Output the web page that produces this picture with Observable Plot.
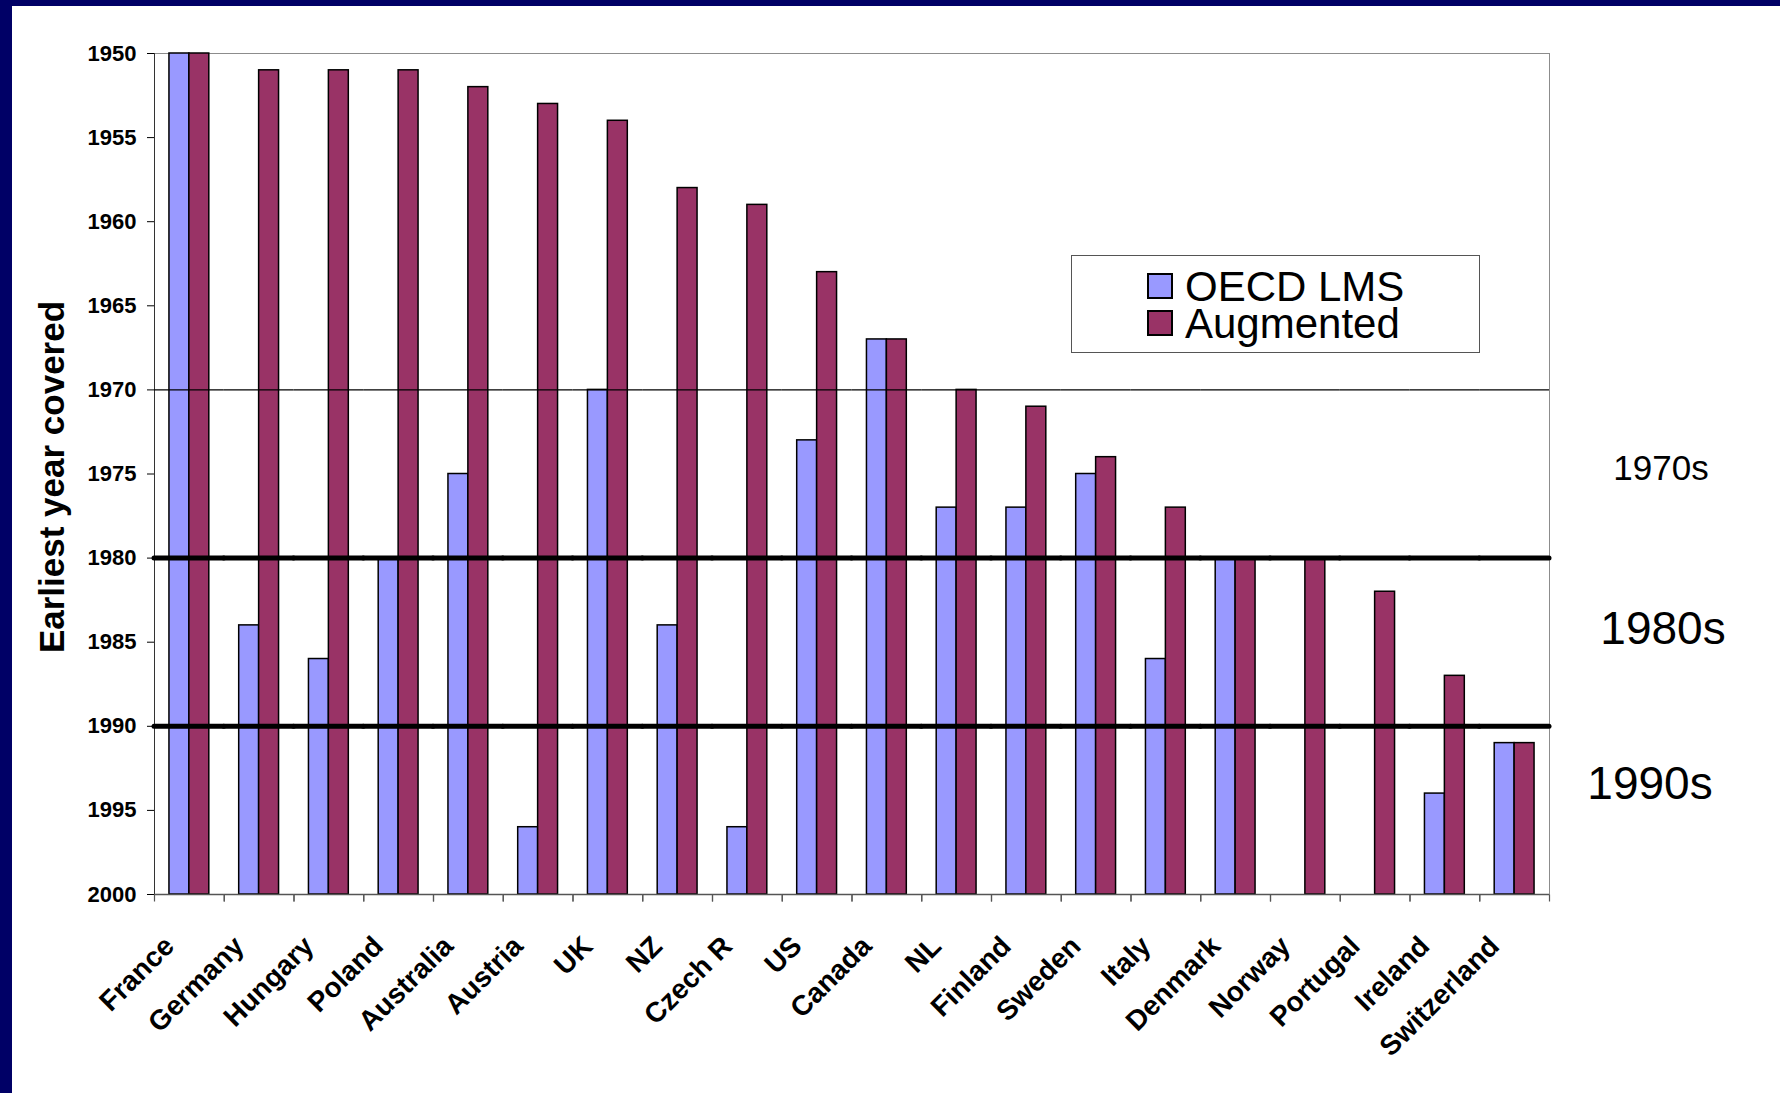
<!DOCTYPE html>
<html>
<head>
<meta charset="utf-8">
<script src="https://cdn.jsdelivr.net/npm/d3@7"></script>
<script src="https://cdn.jsdelivr.net/npm/@observablehq/plot@0.6"></script>
<style>
  html, body { margin: 0; padding: 0; background: #fff; }
  #wrap { position: relative; width: 1780px; height: 1093px; overflow: hidden; background: #fff;
          font-family: "Liberation Sans", Arial, sans-serif; }
  #navyL { position: absolute; left: 0; top: 0; width: 12px; height: 1093px; background: #000066; }
  #navyT { position: absolute; left: 0; top: 0; width: 1780px; height: 6px; background: #000066; }
  #chart { position: absolute; left: 0; top: 0; }
  #chart svg { display: block; }
  .legend { position: absolute; left: 1071px; top: 255px; width: 409px; height: 98px;
            border: 1px solid #555; background: #fff; box-sizing: border-box; }
  .legend .sw { position: absolute; left: 75px; width: 22px; height: 22px; border: 2px solid #000; }
  .legend .txt { position: absolute; left: 113px; top: 12px; font-size: 42px; line-height: 37px;
                 color: #000; white-space: nowrap; }
  .decade { position: absolute; transform: translate(-50%, -50%); line-height: 1; color: #000; white-space: nowrap; }
  .ytitle { position: absolute; left: 51px; top: 477px; transform: translate(-50%, -50%) rotate(-90deg);
            font-weight: bold; font-size: 35px; white-space: nowrap; color: #000; line-height: 1; }
</style>
</head>
<body>
<div id="wrap">
  <div id="chart"></div>
  <div id="navyL"></div>
  <div id="navyT"></div>
</div>
<script>
// ---- data ----
const countries = ["France", "Germany", "Hungary", "Poland", "Australia", "Austria", "UK", "NZ", "Czech R", "US",
                   "Canada", "NL", "Finland", "Sweden", "Italy", "Denmark", "Norway", "Portugal", "Ireland", "Switzerland"];
const oecdLMS   = [1950, 1984, 1986, 1980, 1975, 1996, 1970, 1984, 1996, 1973,
                   1967, 1977, 1977, 1975, 1986, 1980, null, null, 1994, 1991];
const augmented = [1950, 1951, 1951, 1951, 1952, 1953, 1954, 1958, 1959, 1963,
                   1967, 1970, 1971, 1974, 1977, 1980, 1980, 1982, 1987, 1991];
const seriesNames = ["OECD LMS", "Augmented"];
const seriesColors = ["#9999FF", "#993366"];
const yearTicks = [1950, 1955, 1960, 1965, 1970, 1975, 1980, 1985, 1990, 1995, 2000];
const thinLines = [1970];
const thickLines = [1980, 1990];
const decadeLabels = ["1970s", "1980s", "1990s"];
const yTitle = "Earliest year covered";

// ---- table ----
const rows = [];
countries.forEach((c, i) => {
  if (oecdLMS[i] != null) rows.push({country: c, series: seriesNames[0], year: oecdLMS[i]});
  if (augmented[i] != null) rows.push({country: c, series: seriesNames[1], year: augmented[i]});
});

const tickSymbol = {draw(ctx) { ctx.moveTo(0, 0); ctx.lineTo(0, 7); }};

const chart = Plot.plot({
  width: 1780,
  height: 1093,
  marginLeft: 154,
  marginRight: 231,
  marginTop: 53,
  marginBottom: 199,
  style: {fontFamily: '"Liberation Sans", Arial, sans-serif', fontSize: "22px", fontWeight: "bold",
          color: "#000", background: "transparent", overflow: "visible"},
  fx: {domain: countries, padding: 0, round: false, axis: null, label: null},
  x: {domain: seriesNames, paddingInner: 0, paddingOuter: 0.75, round: false, axis: null},
  y: {domain: [1950, 2000], reverse: true, ticks: yearTicks, tickFormat: "d", tickSize: 7, tickPadding: 11, label: null},
  color: {domain: seriesNames, range: seriesColors},
  marks: [
    Plot.frame({facet: "super", stroke: "#8c8c8c"}),
    Plot.frame({facet: "super", anchor: "left", stroke: "#333"}),
    Plot.barY(rows, {fx: "country", x: "series", y1: 2000, y2: "year", fill: "series", stroke: "#000", strokeWidth: 1.5}),
    Plot.ruleY(thinLines, {stroke: "#000", strokeWidth: 1.2}),
    Plot.ruleY(thickLines, {stroke: "#000", strokeWidth: 5, strokeLinecap: "round"}),
    Plot.ruleY([2000], {stroke: "#555", strokeWidth: 1.5}),
    Plot.dot([0], {frameAnchor: "bottom-left", symbol: tickSymbol, stroke: "#555", fill: "none", strokeWidth: 1.2}),
    Plot.dot([0], {frameAnchor: "bottom-right", symbol: tickSymbol, stroke: "#555", fill: "none", strokeWidth: 1.2}),
    Plot.axisFx({anchor: "bottom", label: null, tickRotate: -45, tickSize: 0, tickPadding: 22,
                 fontSize: 28, fontWeight: "bold", dx: -20, dy: 25})
  ]
});
document.getElementById("chart").appendChild(chart);

// ---- legend ----
const wrap = document.getElementById("wrap");
const legend = document.createElement("div");
legend.className = "legend";
seriesNames.forEach((name, i) => {
  const sw = document.createElement("span");
  sw.className = "sw";
  sw.style.top = (17 + i * 37) + "px";
  sw.style.background = seriesColors[i];
  legend.appendChild(sw);
});
const txt = document.createElement("div");
txt.className = "txt";
txt.innerHTML = seriesNames.join("<br>");
legend.appendChild(txt);
wrap.appendChild(legend);

// ---- decade annotations ----
const decadePos = [{x: 1661, y: 467, s: 35}, {x: 1663, y: 628, s: 46}, {x: 1650, y: 783, s: 46}];
decadeLabels.forEach((lab, i) => {
  const d = document.createElement("div");
  d.className = "decade";
  d.textContent = lab;
  d.style.left = decadePos[i].x + "px";
  d.style.top = decadePos[i].y + "px";
  d.style.fontSize = decadePos[i].s + "px";
  wrap.appendChild(d);
});

// ---- y title ----
const yt = document.createElement("div");
yt.className = "ytitle";
yt.textContent = yTitle;
wrap.appendChild(yt);
</script>
</body>
</html>
